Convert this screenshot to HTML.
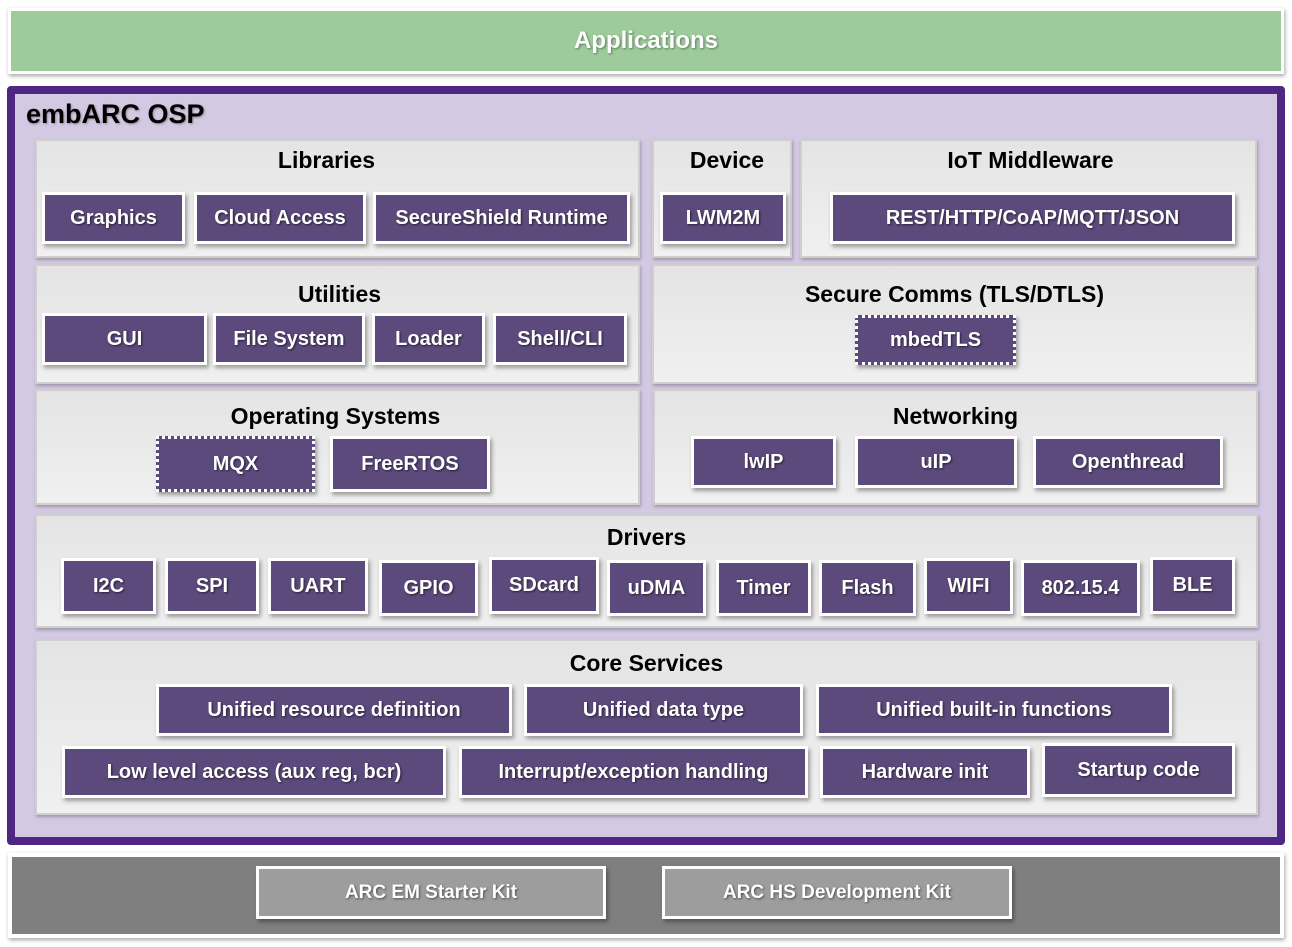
<!DOCTYPE html>
<html><head><meta charset="utf-8"><style>
*{margin:0;padding:0;box-sizing:border-box}
body{width:1292px;height:947px;background:#fff;position:relative;overflow:hidden;font-family:"Liberation Sans",Arial,sans-serif}
.a{position:absolute}
.p{position:absolute;background:linear-gradient(#e4e4e4,#f0f0f0);border:2px solid #cfcfcf;box-shadow:1px 2px 3px rgba(0,0,0,.25)}
.p .t{position:absolute;left:0;right:0;text-align:center;font-weight:bold;font-size:23px;color:#000}
.c{position:absolute;background:#5c4a7c;border:3px solid #fff;box-shadow:2px 3px 4px rgba(0,0,0,.35);color:#fff;font-weight:bold;font-size:20px;display:flex;align-items:center;justify-content:center;text-shadow:1px 1px 2px rgba(0,0,0,.6);white-space:nowrap}
.d{border:3px dotted #fff}
.g{position:absolute;background:#9d9d9d;border:3px solid #fff;box-shadow:2px 3px 4px rgba(0,0,0,.35);color:#fff;font-weight:bold;font-size:19px;display:flex;align-items:center;justify-content:center;text-shadow:1px 1px 2px rgba(0,0,0,.5)}
</style></head><body>
<div class="a" style="left:8px;top:8px;width:1276px;height:66px;background:#9dcb9a;border:3px solid #fff;box-shadow:1px 2px 4px rgba(0,0,0,.35);color:#fff;font-weight:bold;font-size:24px;display:flex;align-items:center;justify-content:center;text-shadow:1px 1px 2px rgba(0,0,0,.4)">Applications</div>
<div class="a" style="left:7px;top:86px;width:1278px;height:759px;background:#d3c9e2;border:8px solid #4f2683;border-radius:4px"></div>
<div class="a" style="left:26px;top:99px;font-weight:bold;font-size:27px;color:#000;text-shadow:1px 1px 2px rgba(0,0,0,.3)">embARC OSP</div>

<div class="p" style="left:35px;top:139px;width:605px;height:119px"><div class="t" style="top:6px;right:22px">Libraries</div></div>
<div class="p" style="left:652px;top:139px;width:140px;height:119px"><div class="t" style="top:6px;left:10px">Device</div></div>
<div class="p" style="left:800px;top:139px;width:457px;height:119px"><div class="t" style="top:6px;left:4px">IoT Middleware</div></div>
<div class="p" style="left:35px;top:264px;width:605px;height:120px"><div class="t" style="top:15px;left:4px">Utilities</div></div>
<div class="p" style="left:652px;top:264px;width:605px;height:120px"><div class="t" style="top:15px">Secure Comms (TLS/DTLS)</div></div>
<div class="p" style="left:35px;top:389px;width:605px;height:116px"><div class="t" style="top:12px;right:4px">Operating Systems</div></div>
<div class="p" style="left:653px;top:389px;width:605px;height:116px"><div class="t" style="top:12px">Networking</div></div>
<div class="p" style="left:35px;top:514px;width:1223px;height:114px"><div class="t" style="top:8px">Drivers</div></div>
<div class="p" style="left:35px;top:639px;width:1223px;height:176px"><div class="t" style="top:9px">Core Services</div></div>

<div class="c" style="left:42px;top:192px;width:143px;height:52px">Graphics</div>
<div class="c" style="left:194px;top:192px;width:172px;height:52px">Cloud Access</div>
<div class="c" style="left:373px;top:192px;width:257px;height:52px">SecureShield Runtime</div>
<div class="c" style="left:660px;top:192px;width:126px;height:52px">LWM2M</div>
<div class="c" style="left:830px;top:192px;width:405px;height:52px">REST/HTTP/CoAP/MQTT/JSON</div>

<div class="c" style="left:42px;top:313px;width:165px;height:52px">GUI</div>
<div class="c" style="left:213px;top:313px;width:152px;height:52px">File System</div>
<div class="c" style="left:372px;top:313px;width:113px;height:52px">Loader</div>
<div class="c" style="left:493px;top:313px;width:134px;height:52px">Shell/CLI</div>
<div class="c d" style="left:855px;top:315px;width:161px;height:50px">mbedTLS</div>

<div class="c d" style="left:156px;top:436px;width:159px;height:56px">MQX</div>
<div class="c" style="left:330px;top:436px;width:160px;height:56px">FreeRTOS</div>
<div class="c" style="left:691px;top:436px;width:145px;height:52px">lwIP</div>
<div class="c" style="left:855px;top:436px;width:162px;height:52px">uIP</div>
<div class="c" style="left:1033px;top:436px;width:190px;height:52px">Openthread</div>

<div class="c" style="left:61px;top:558px;width:95px;height:56px">I2C</div>
<div class="c" style="left:165px;top:558px;width:94px;height:56px">SPI</div>
<div class="c" style="left:268px;top:558px;width:100px;height:56px">UART</div>
<div class="c" style="left:379px;top:560px;width:99px;height:56px">GPIO</div>
<div class="c" style="left:489px;top:557px;width:110px;height:57px">SDcard</div>
<div class="c" style="left:607px;top:560px;width:99px;height:56px">uDMA</div>
<div class="c" style="left:716px;top:560px;width:95px;height:56px">Timer</div>
<div class="c" style="left:819px;top:560px;width:97px;height:56px">Flash</div>
<div class="c" style="left:924px;top:558px;width:89px;height:56px">WIFI</div>
<div class="c" style="left:1021px;top:560px;width:119px;height:56px">802.15.4</div>
<div class="c" style="left:1150px;top:557px;width:85px;height:57px">BLE</div>

<div class="c" style="left:156px;top:684px;width:356px;height:52px">Unified resource definition</div>
<div class="c" style="left:524px;top:684px;width:279px;height:52px">Unified data type</div>
<div class="c" style="left:816px;top:684px;width:356px;height:52px">Unified built-in functions</div>
<div class="c" style="left:62px;top:746px;width:384px;height:52px">Low level access (aux reg, bcr)</div>
<div class="c" style="left:459px;top:746px;width:349px;height:52px">Interrupt/exception handling</div>
<div class="c" style="left:820px;top:746px;width:210px;height:52px">Hardware init</div>
<div class="c" style="left:1042px;top:743px;width:193px;height:54px">Startup code</div>

<div class="a" style="left:8px;top:853px;width:1276px;height:85px;background:#7f7f7f;border:4px solid #fff;box-shadow:1px 2px 4px rgba(0,0,0,.35)"></div>
<div class="g" style="left:256px;top:866px;width:350px;height:53px">ARC EM Starter Kit</div>
<div class="g" style="left:662px;top:866px;width:350px;height:53px">ARC HS Development Kit</div>
</body></html>
